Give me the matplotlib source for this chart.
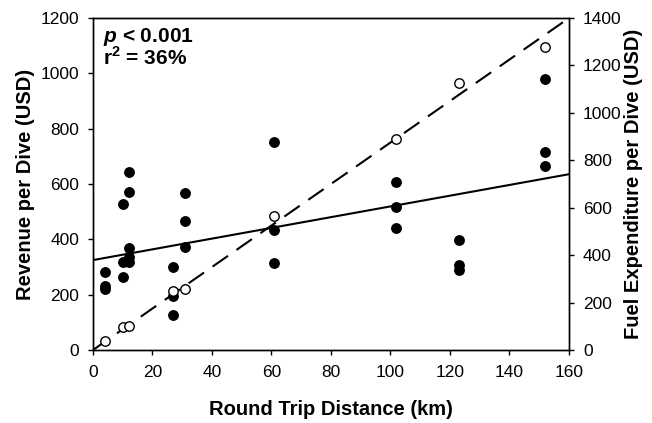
import numpy as np
import matplotlib
matplotlib.use("Agg")
import matplotlib.pyplot as plt

plt.rcParams["font.family"] = ["Liberation Sans", "DejaVu Sans"]
plt.rcParams["mathtext.fontset"] = "custom"
plt.rcParams["mathtext.rm"] = "Liberation Sans"
plt.rcParams["mathtext.bf"] = "Liberation Sans:bold"
plt.rcParams["mathtext.bfit"] = "Liberation Sans:italic:bold"

# revenue per dive (filled, left axis)
rev_km = [4, 4, 4, 10, 10, 10, 12, 12, 12, 12, 12, 27, 27, 27, 31, 31, 31,
          61, 61, 61, 102, 102, 102, 123, 123, 123, 152, 152, 152]
rev_usd = [283, 231, 219, 526, 319, 263, 642, 571, 370, 335, 318, 299, 196, 126,
           566, 465, 371, 753, 434, 316, 608, 518, 442, 398, 307, 290, 979, 717, 665]

# fuel expenditure per dive (open, right axis)
fuel_km = [4, 10, 12, 27, 31, 61, 102, 123, 152]
fuel_usd = [38, 97, 103, 249, 257, 566, 888, 1127, 1276]

# fitted lines: (intercept, slope)
rev_fit = (325, 1.94)
fuel_fit = (0, 8.75)

fig = plt.figure(figsize=(6.52, 4.23), dpi=100)
ax = fig.add_axes([0.1426, 0.1726, 0.7301, 0.7848])
ax2 = ax.twinx()

xl = np.array([0, 160])
ax.plot(xl, rev_fit[0] + rev_fit[1] * xl, color="black", lw=1.5, zorder=2)
ax.plot(rev_km, rev_usd, "o", color="black", ms=6.8, zorder=3)
ax2.plot(xl, fuel_fit[0] + fuel_fit[1] * xl, color="black", lw=1.5, dashes=(9, 5), zorder=2)
ax2.plot(fuel_km, fuel_usd, "o", mfc="white", mec="black", mew=1, ms=6.8, zorder=3)

ax.set_xlim(0, 160)
ax.set_ylim(0, 1200)
ax2.set_ylim(0, 1400)
ax.set_xticks(range(0, 161, 20))
ax.set_yticks(range(0, 1201, 200))
ax2.set_yticks(range(0, 1401, 200))
for a in (ax, ax2):
    a.tick_params(direction="out", length=3.5, width=1, labelsize=12.5, pad=6.5)
    for s in a.spines.values():
        s.set_linewidth(1)
ax.tick_params(axis="x", pad=7)

ax.set_xlabel("Round Trip Distance (km)", fontsize=14.5, fontweight="bold", labelpad=15)
ax.set_ylabel("Revenue per Dive (USD)", fontsize=14.5, fontweight="bold", labelpad=4)
ax2.set_ylabel("Fuel Expenditure per Dive (USD)", fontsize=14.5, fontweight="bold", labelpad=2)

ax.text(0.021, 0.928, r"$\mathbfit{p}$ < 0.001", transform=ax.transAxes, fontsize=15,
        fontweight="bold", va="baseline")
ax.text(0.021, 0.858, r"r$^{\mathbf{2}}$ = 36%", transform=ax.transAxes, fontsize=15,
        fontweight="bold", va="baseline")

fig.savefig("out.png", dpi=100)
